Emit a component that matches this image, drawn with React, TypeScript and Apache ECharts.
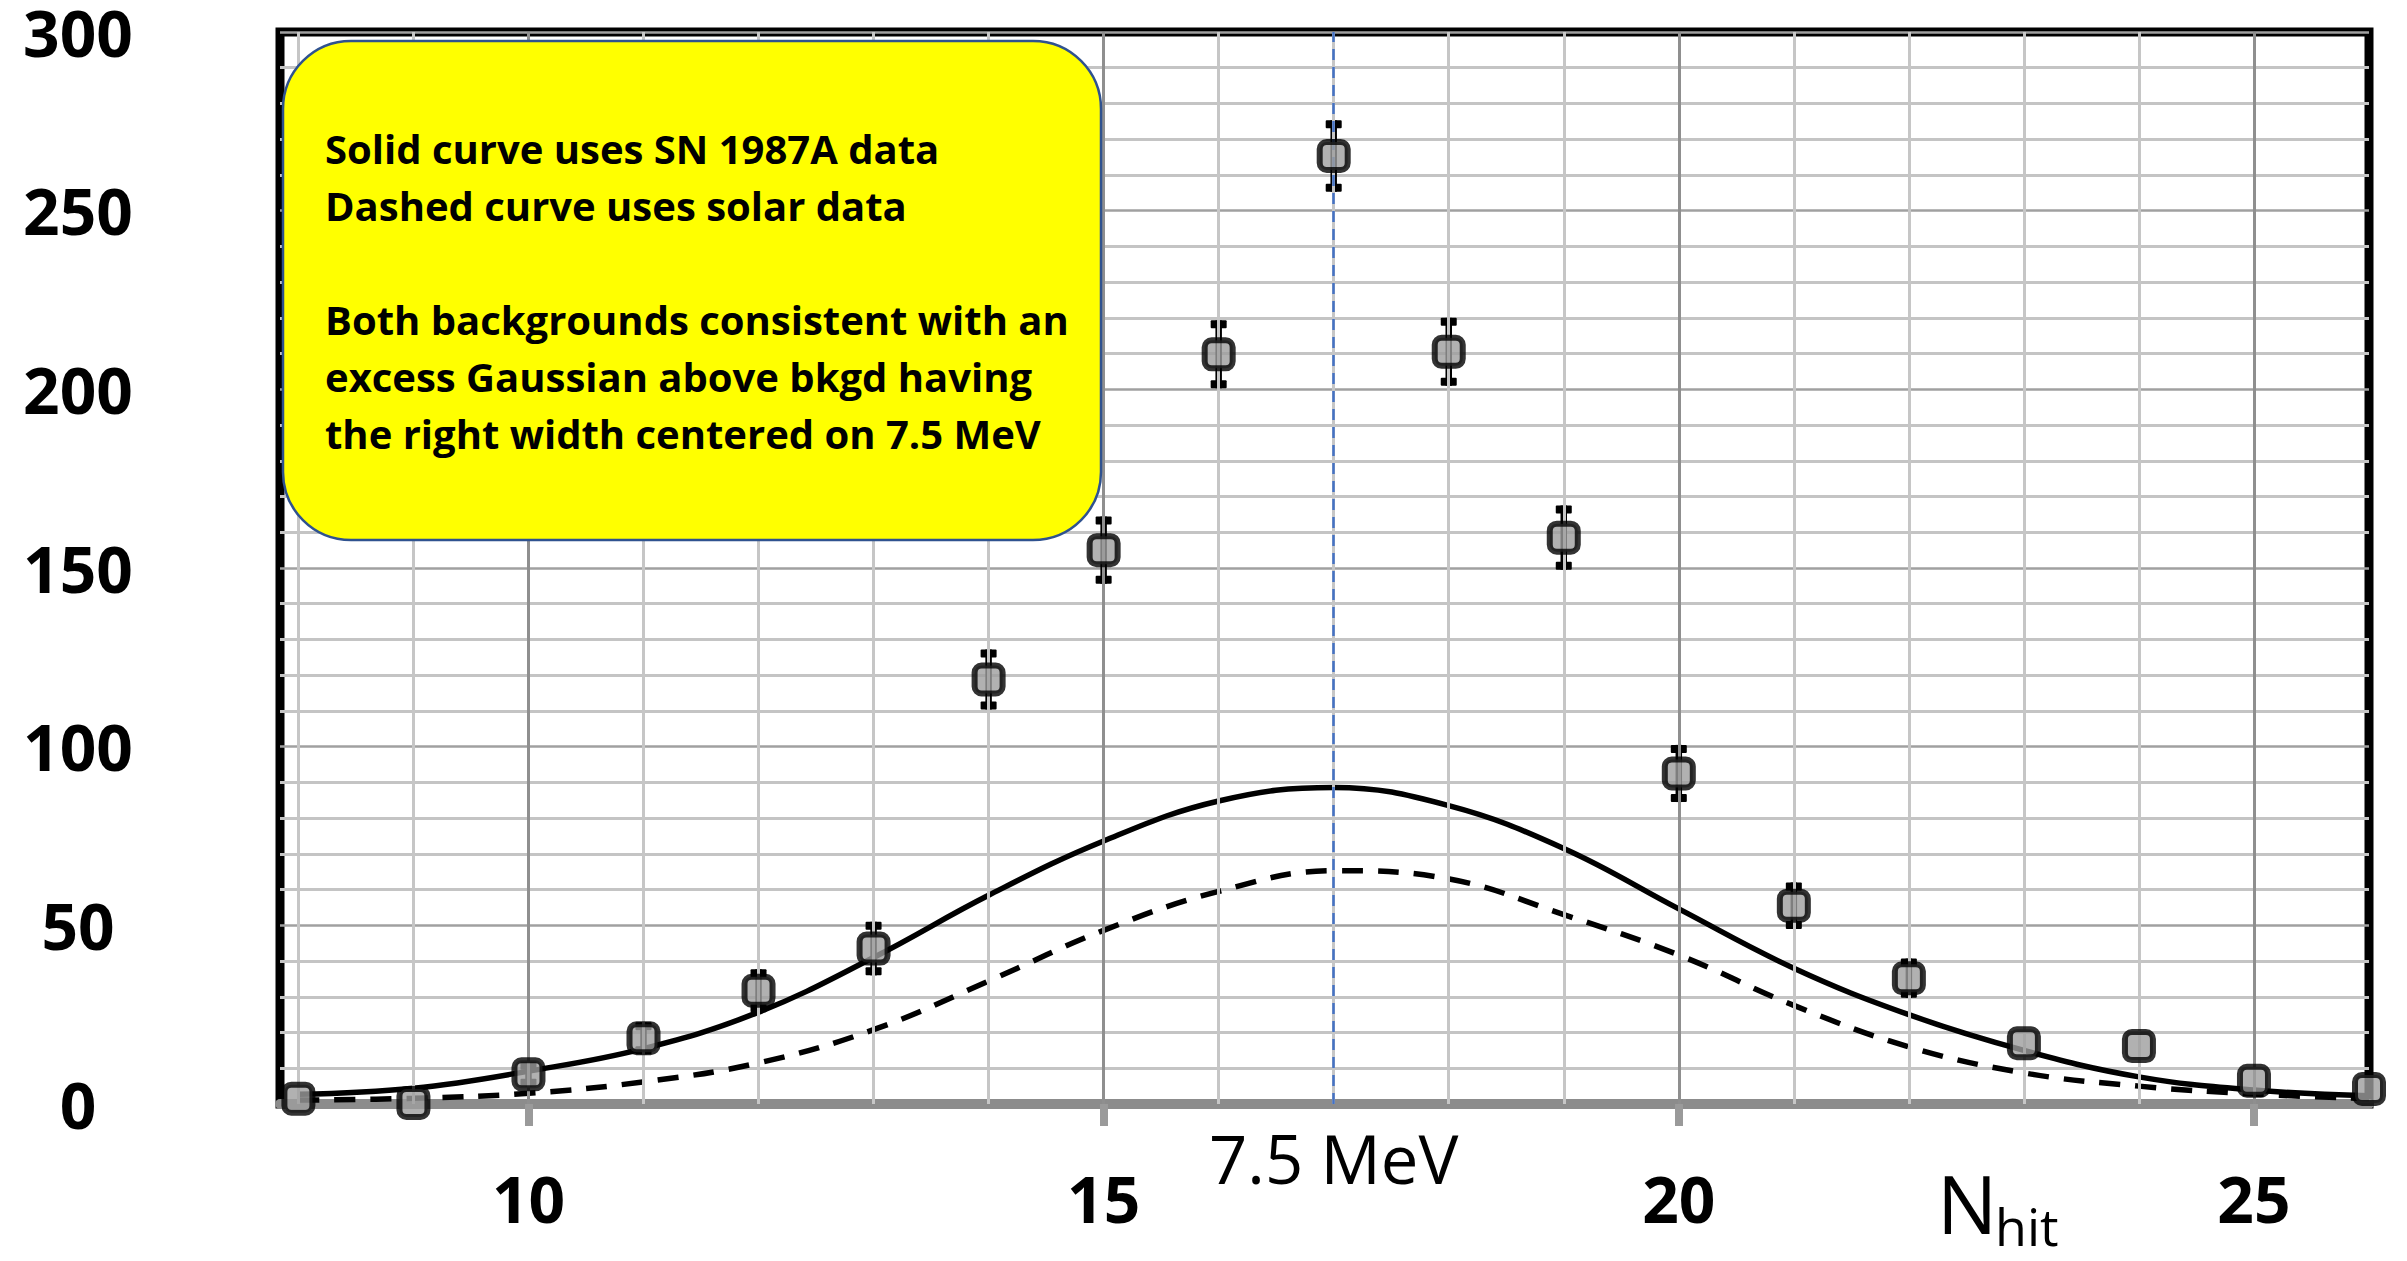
import React, { useEffect, useRef } from "react";
import * as echarts from "echarts";

// Hit multiplicity bins
const nHit = [8, 9, 10, 11, 12, 13, 14, 15, 16, 17, 18, 19, 20, 21, 22, 23, 24, 25, 26];

// Observed counts per bin and their error bars
const observed = [1.5, 0.3, 8.3, 18.4, 31.7, 43.5, 118.8, 155, 209.8, 265.3, 210.5, 158.5, 92.5, 55.5, 35.2, 17, 16.2, 6.5, 4.2];
const observedErr = [0, 0, 3.5, 4.5, 6, 7.5, 8.4, 9.4, 9.5, 10, 9.5, 9, 8, 6.5, 5.5, 0, 0, 0, 0];

// Background expectation curves
const solidCurve = [2.7, 4.4, 9.2, 15.5, 25.7, 41, 58.4, 73.6, 84.8, 88.6, 83.5, 71.5, 54.6, 38, 25, 15, 7.6, 3.9, 2.3];
const dashedCurve = [1.1, 1.6, 3.0, 6.2, 11.5, 20.8, 34.4, 48.6, 59.5, 65.3, 63, 53, 41.7, 27.6, 16, 8.7, 5, 2.8, 1.5];

// Axis ticks and grid lines
const xLabelTicks = [10, 15, 20, 25];
const xMinorLines = [8, 9, 11, 12, 13, 14, 16, 17, 18, 19, 21, 22, 23, 24];
const peakNhit = 17;
const peakLabel = "7.5 MeV";

const noteLines = [
  "Solid curve uses SN 1987A data",
  "Dashed curve uses solar data",
  "",
  "Both backgrounds consistent with an",
  "excess Gaussian above bkgd having",
  "the right width centered on 7.5 MeV",
];

const FONT = "'Open Sans', 'Noto Sans', sans-serif";

export default function App() {
  const ref = useRef<HTMLDivElement>(null);

  useEffect(() => {
    if (!ref.current) return;
    const chart = echarts.init(ref.current, null, { renderer: "svg" });

    const pts = nHit.map((x, i) => [x, observed[i], observedErr[i]]);

    chart.setOption({
      animation: false,
      backgroundColor: "#ffffff",
      grid: {
        left: 280,
        right: 38,
        top: 24,
        bottom: 157,
        show: true,
        borderColor: "#000000",
        borderWidth: 9,
        backgroundColor: "transparent",
      },
      xAxis: {
        type: "value",
        min: 7.84,
        max: 26,
        axisLine: { show: true, onZero: false, lineStyle: { color: "#8c8c8c", width: 10 } },
        axisTick: {
          show: true,
          customValues: xLabelTicks,
          length: 22,
          lineStyle: { color: "#9a9a9a", width: 8 },
        },
        axisLabel: {
          customValues: xLabelTicks,
          fontSize: 64,
          fontWeight: "bold",
          fontFamily: FONT,
          color: "#000",
          margin: 62,
        },
        splitLine: { show: false },
      },
      yAxis: {
        type: "value",
        min: 0,
        max: 300,
        interval: 50,
        axisLine: { show: false },
        axisTick: { show: false },
        axisLabel: {
          fontSize: 64,
          lineHeight: 46,
          fontWeight: "bold",
          fontFamily: FONT,
          color: "#000",
          align: "center",
          margin: 202,
        },
        splitLine: { show: true, lineStyle: { color: "#a0a0a0", width: 2.5 } },
        minorTick: { show: false, splitNumber: 5 },
        minorSplitLine: { show: true, lineStyle: { color: "#c4c4c4", width: 3 } },
      },
      series: [
        {
          type: "line",
          data: [],
          silent: true,
          z: 1,
          markLine: {
            silent: true,
            symbol: ["none", "none"],
            label: { show: false },
            data: [
              ...xMinorLines.map((v) => ({ xAxis: v, lineStyle: { color: "#c6c6c6", width: 3, type: "solid" } })),
              ...xLabelTicks.map((v) => ({ xAxis: v, lineStyle: { color: "#8f8f8f", width: 3, type: "solid" } })),
            ],
          },
        },
        {
          type: "line",
          data: [],
          silent: true,
          z: 2,
          markLine: {
            silent: true,
            symbol: ["none", "none"],
            lineStyle: { color: "#4472C4", width: 2.5, type: [11, 7] },
            label: {
              show: true,
              position: "start",
              formatter: peakLabel,
              fontSize: 67,
              fontFamily: FONT,
              color: "#000",
              distance: 20,
            },
            data: [{ xAxis: peakNhit }],
          },
        },
        {
          type: "line",
          data: nHit.map((x, i) => [x, dashedCurve[i]]),
          smooth: 0.4,
          symbol: "none",
          z: 3,
          lineStyle: { color: "#000", width: 5.5, type: [21, 15] },
        },
        {
          type: "line",
          data: nHit.map((x, i) => [x, solidCurve[i]]),
          smooth: 0.4,
          symbol: "none",
          z: 3,
          lineStyle: { color: "#000", width: 5.5 },
        },
        {
          type: "custom",
          z: 4,
          clip: false,
          data: pts,
          renderItem: (params: any, api: any) => {
            const x = api.value(0);
            const v = api.value(1);
            const e = api.value(2);
            if (!e) return null;
            const top = api.coord([x, v + e]);
            const bot = api.coord([x, v - e]);
            const capW = 16;
            const capH = 8;
            return {
              type: "group",
              children: [
                {
                  type: "line",
                  shape: { x1: top[0], y1: top[1], x2: bot[0], y2: bot[1] },
                  style: { stroke: "#000", lineWidth: 6.5 },
                },
                {
                  type: "rect",
                  shape: { x: top[0] - capW / 2, y: top[1], width: capW, height: capH, r: 1 },
                  style: { fill: "#000" },
                },
                {
                  type: "rect",
                  shape: { x: bot[0] - capW / 2, y: bot[1] - capH, width: capW, height: capH, r: 1 },
                  style: { fill: "#000" },
                },
              ],
            };
          },
        },
        {
          type: "scatter",
          z: 5,
          clip: false,
          data: pts.map((p) => [p[0], p[1]]),
          symbol: "roundRect",
          symbolSize: 28,
          itemStyle: { color: "#9e9e9e", borderColor: "#000", borderWidth: 6 },
        },
      ],
      graphic: [
        {
          type: "rect",
          z: 100,
          shape: { x: 283, y: 41, width: 818, height: 499, r: 68 },
          style: { fill: "#FFFF00", stroke: "#2F528F", lineWidth: 2.5 },
        },
        {
          type: "text",
          z: 101,
          x: 325,
          y: 120,
          style: {
            text: noteLines.join("\n"),
            fontFamily: FONT,
            fontWeight: "bold",
            fontSize: 40,
            lineHeight: 57,
            fill: "#000",
            verticalAlign: "top",
            align: "left",
          },
        },
        {
          type: "text",
          z: 101,
          x: 1937,
          y: 1202,
          style: {
            text: "N",
            fontFamily: FONT,
            fontSize: 80,
            lineHeight: 70,
            fill: "#000",
            verticalAlign: "middle",
            align: "left",
          },
        },
        {
          type: "text",
          z: 101,
          x: 1995,
          y: 1225,
          style: {
            text: "hit",
            fontFamily: FONT,
            fontSize: 52,
            lineHeight: 46,
            fill: "#000",
            verticalAlign: "middle",
            align: "left",
          },
        },
      ],
    });

    return () => chart.dispose();
  }, []);

  return (
    <div
      ref={ref}
      style={{ position: "fixed", left: 0, top: 0, width: 2407, height: 1261, background: "#fff" }}
    />
  );
}
